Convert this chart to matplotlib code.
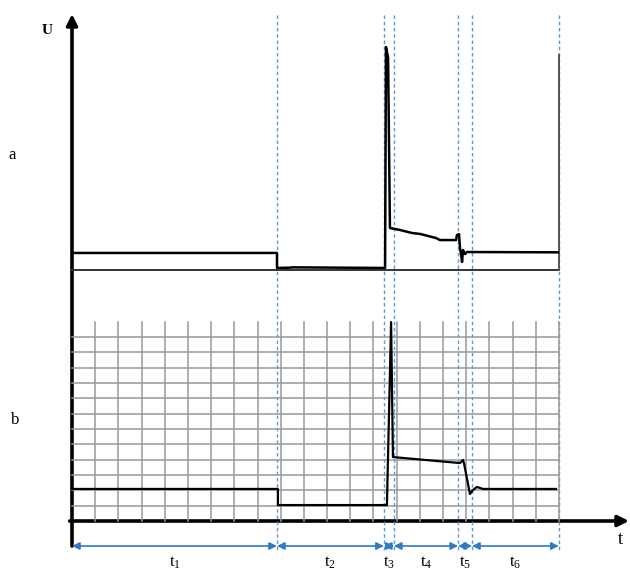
import numpy as np
import matplotlib.pyplot as plt

plt.rcParams['font.family'] = ['Liberation Serif', 'DejaVu Serif']
plt.rcParams['mathtext.fontset'] = 'custom'
plt.rcParams['mathtext.rm'] = 'Liberation Serif'
plt.rcParams['mathtext.it'] = 'Liberation Serif'

# phase boundaries, in grid divisions along t
t_bounds = [0, 8.84, 13.45, 13.88, 16.65, 17.25, 20.99]
phase_labels = [r'$\mathrm{t}_1$', r'$\mathrm{t}_2$', r'$\mathrm{t}_3$',
                r'$\mathrm{t}_4$', r'$\mathrm{t}_5$', r'$\mathrm{t}_6$']

# trace a (recorded), voltage in grid units above its baseline
ta = [0, 8.84, 8.84, 9.4, 9.5, 13.5, 13.54, 13.63, 13.71, 13.93, 14.14, 14.66,
      15.01, 15.35, 15.70, 15.87, 16.56, 16.60, 16.69, 16.73, 16.78, 16.82,
      16.86, 16.95, 17.03, 20.96]
ua = [1.08, 1.08, 0.10, 0.12, 0.14, 0.10, 14.51, 13.80, 2.71, 2.64, 2.58, 2.38,
      2.32, 2.19, 2.05, 1.92, 1.92, 2.25, 2.30, 1.40, 0.95, 0.49,
      1.27, 1.01, 1.14, 1.12]

# trace b (idealised), voltage in grid units
tb = [0, 8.88, 8.88, 13.58, 13.76, 13.84, 16.73, 16.86, 16.91, 17.16, 17.29,
      17.46, 17.72, 20.87]
ub = [2.09, 2.09, 1.04, 1.04, 12.98, 4.17, 3.78, 3.98, 3.72, 1.76, 2.02,
      2.22, 2.09, 2.09]

n_grid_t = 21
n_grid_u = 13

# layout in pixels
W, H = 630, 571
PX_T0 = 72
PX_PER_DIV = 23.19
PX_PER_U = 15.33
BASE_A = 269.5
BASE_B = 521
blue = '#5b9bd5'

fig = plt.figure(figsize=(W / 100, H / 100), dpi=100)
xlim = (-PX_T0 / PX_PER_DIV, (W - PX_T0) / PX_PER_DIV)

def full_axes(ylim):
    ax = fig.add_axes([0, 0, 1, 1])
    ax.set_xlim(*xlim)
    ax.set_ylim(*ylim)
    ax.axis('off')
    ax.patch.set_alpha(0)
    return ax

ax0 = full_axes((H, 0))
ax_a = full_axes(((BASE_A - H) / PX_PER_U, BASE_A / PX_PER_U))
ax_b = full_axes(((BASE_B - H) / PX_PER_U, BASE_B / PX_PER_U))

# grid of panel b
for k in range(1, n_grid_u):
    ax_b.plot([0, n_grid_t], [k, k], color='#999999', lw=1.1, zorder=1)
for k in range(1, n_grid_t + 1):
    ax_b.plot([k, k], [0, n_grid_u], color='#999999', lw=1.1, zorder=1)
ax_b.plot(tb, ub, color='black', lw=1.6, zorder=3)

# panel a
ax_a.plot([0, t_bounds[-1]], [0, 0], color='#333333', lw=1.4, zorder=2)
ax_a.plot([t_bounds[-1], t_bounds[-1]], [0, 14.0], color='#555555', lw=1.4, zorder=2)
ax_a.plot(ta, ua, color='black', lw=1.8, zorder=3)

# dashed phase boundaries
for tb_ in t_bounds[1:]:
    ax0.plot([tb_, tb_], [15, 552], color=blue, lw=1.0, ls=(0, (2.5, 2)), zorder=4)

# axes with arrows
ax0.annotate('', xy=(0, 14), xytext=(0, 546),
             arrowprops=dict(arrowstyle='-|>', lw=2.6, color='black',
                             mutation_scale=16, shrinkA=0, shrinkB=0))
ax0.annotate('', xy=((629 - PX_T0) / PX_PER_DIV, BASE_B),
             xytext=(-0.1, BASE_B),
             arrowprops=dict(arrowstyle='-|>', lw=2.6, color='black',
                             mutation_scale=16, shrinkA=0, shrinkB=0))

# phase arrows and labels
for i in range(len(phase_labels)):
    ax0.annotate('', xy=(t_bounds[i + 1], 546), xytext=(t_bounds[i], 546),
                 arrowprops=dict(arrowstyle='<|-|>', lw=1.2, color='#2e7bc4',
                                 mutation_scale=11, shrinkA=0, shrinkB=0))
    ax0.text((t_bounds[i] + t_bounds[i + 1]) / 2, 563, phase_labels[i],
             ha='center', va='center', fontsize=12)

ax0.text(-1.08, 30, 'U', ha='center', va='center', fontsize=11, fontweight='bold')
ax0.text(-2.59, 155, 'a', ha='center', va='center', fontsize=12)
ax0.text(-2.46, 420, 'b', ha='center', va='center', fontsize=12)
ax0.text(23.63, 540, 't', ha='center', va='center', fontsize=13)

fig.savefig('out.png', dpi=100)
